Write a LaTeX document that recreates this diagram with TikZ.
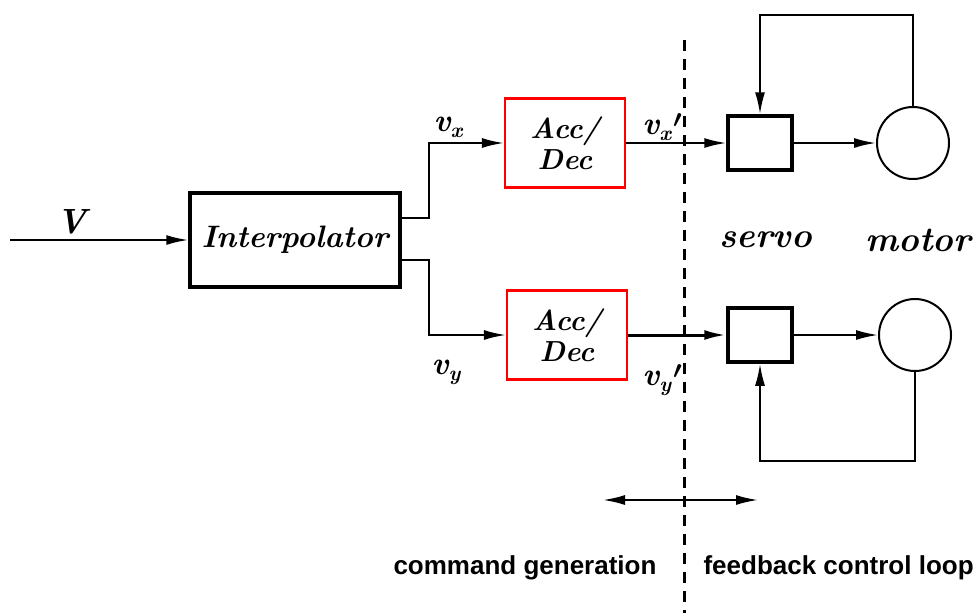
\documentclass[tikz,border=0pt]{standalone}
\usepackage{fontspec}
\newfontfamily\labelsans{Liberation Sans}
\usetikzlibrary{arrows.meta}

\def\xMax{979}
\def\yMax{613}
\newcommand\sigsub[2]{v\raisebox{-6pt}{\fontsize{21}{21}\selectfont #1}#2}
\newcommand\sigprime{\hspace{2pt}\raisebox{7pt}{\boldmath$\prime$}}

\tikzset{
  flow/.style={line width=2pt},
  blockbox/.style={draw, line width=3.5pt, minimum width=210pt, minimum height=94pt, inner sep=0pt,
    font=\fontsize{31}{34}\selectfont\bfseries\itshape},
  accbox/.style={draw=red, line width=2.2pt, minimum width=120pt, minimum height=89pt, inner sep=0pt,
    align=center, font=\fontsize{29}{31}\selectfont\bfseries\itshape},
  servobox/.style={draw, line width=3.5pt, minimum width=64pt, minimum height=54pt, inner sep=0pt},
  motorcirc/.style={draw, circle, line width=2pt, minimum size=72pt, inner sep=0pt},
  tag/.style={font=\fontsize{35}{37}\selectfont\bfseries\itshape},
  signal/.style={font=\fontsize{32}{34}\selectfont\bfseries\itshape},
  region/.style={font=\fontsize{26}{28}\selectfont\labelsans\bfseries},
  divider/.style={line width=3pt, dash pattern=on 11pt off 8pt}
}

\begin{document}
\begin{tikzpicture}[x=1pt, y=-1pt, >={Latex[length=22pt,width=10pt]}]
  \useasboundingbox (0,0) rectangle (\xMax,\yMax);

  \node[blockbox] (interp) at (295,240) {Interpolator};
  \node[accbox] (accx) at (565,143) {Acc/\\Dec};
  \node[accbox] (accy) at (567,335) {Acc/\\Dec};
  \node[servobox] (servox) at (760,143) {};
  \node[servobox] (servoy) at (760,335) {};
  \node[motorcirc] (motorx) at (913,143) {};
  \node[motorcirc] (motory) at (915,335) {};

  \node[tag] (vlbl) at (72,222) {V};
  \node[tag] (servolbl) at (766,240) {servo};
  \node[tag] (motorlbl) at (918,240) {motor};
  \node[signal] (vx) at (448,127) {\sigsub{x}{}};
  \node[signal] (vxp) at (662,127) {\sigsub{x}{\sigprime}};
  \node[signal] (vy) at (446,372) {\sigsub{y}{}};
  \node[signal] (vyp) at (662,380) {\sigsub{y}{\sigprime}};

  \coordinate (vin) at (10,240);
  \coordinate (fbx) at (760,15);
  \coordinate (fby) at (760,461);
  \coordinate (dtop) at (684,40);
  \coordinate (dbot) at (684,\yMax);
  \coordinate (spanl) at (603,500);
  \coordinate (spanr) at (758,500);

  \draw[flow, ->] (vin) -- (interp.west);
  \draw[flow, ->] ([yshift=22pt]interp.east) -- ++(27,0) |- (accx.west);
  \draw[flow, ->] ([yshift=-20pt]interp.east) -- ++(27,0) |- (accy.west);
  \draw[flow, ->] (accx.east) -- (servox.west);
  \draw[flow, line width=3pt, ->] (accy.east) -- (servoy.west);
  \draw[flow, ->] (servox.east) -- (motorx.west);
  \draw[flow, ->] (servoy.east) -- (motory.west);
  \draw[flow, ->] (motorx.north) |- (fbx) -- (servox.north);
  \draw[flow, ->] (motory.south) |- (fby) -- (servoy.south);

  \draw[divider] (dtop) -- (dbot);
  \draw[flow, <->] (spanl) -- (spanr);

  \node[region] (cmdgen) at (525,568) {command generation};
  \node[region, anchor=west] (fbloop) at (700,568) {feedback control loop};
\end{tikzpicture}
\end{document}
